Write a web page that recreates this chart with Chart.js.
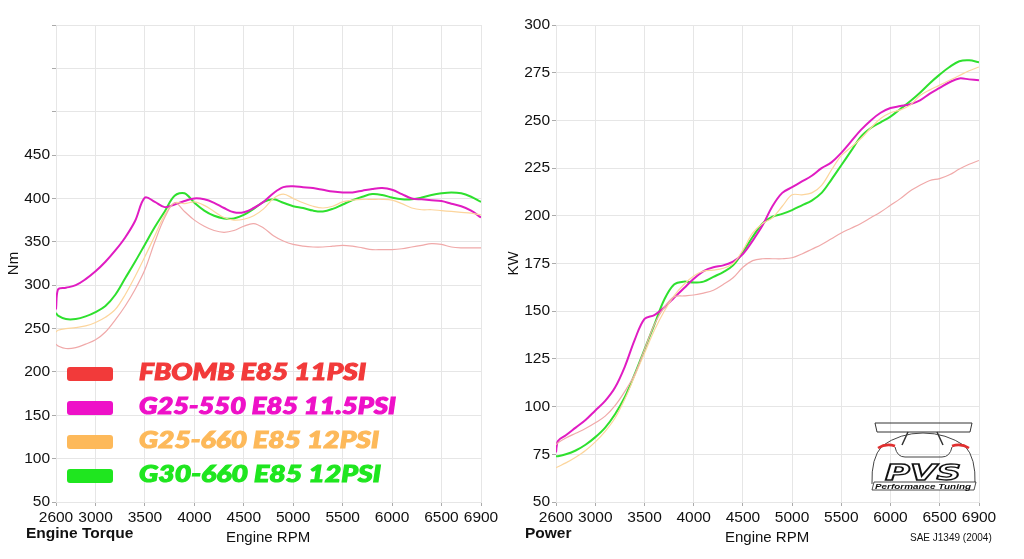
<!DOCTYPE html>
<html>
<head>
<meta charset="utf-8">
<script src="https://cdn.jsdelivr.net/npm/chart.js@4.4.1/dist/chart.umd.min.js"></script>
<style>
  body { margin: 0; background: #fff; width: 1024px; height: 559px; overflow: hidden; position: relative;
         font-family: "Liberation Sans", Arial, sans-serif; color: #111; }
  .box { position: absolute; top: 0; height: 559px; }
  .lbl { position: absolute; white-space: nowrap; line-height: 1; }
  .bold { font-weight: bold; font-size: 15.5px; }
  .rpm { font-size: 15px; }
  .leg { position: absolute; left: 67px; }
  .leg .sw { position: absolute; left: 0; width: 46px; height: 14px; border-radius: 3px; }
  .leg .tx { position: absolute; left: 72px; top: -7px; white-space: nowrap; font-family: Lato, "Open Sans", sans-serif;
             font-weight: 900; font-style: italic; font-size: 23px; line-height: 1; transform-origin: left center;
             -webkit-text-stroke: 1.1px currentColor; }
</style>
</head>
<body>
<div class="box" style="left:0;width:512px"><canvas id="torque"></canvas></div>
<div class="box" style="left:500px;width:524px"><canvas id="power"></canvas></div>

<div class="lbl bold" style="left:26px;top:525px">Engine Torque</div>
<div class="lbl rpm" style="left:226px;top:529px">Engine RPM</div>
<div class="lbl bold" style="left:525px;top:525px">Power</div>
<div class="lbl rpm" style="left:725px;top:529px">Engine RPM</div>
<div class="lbl" style="left:910px;top:533px;font-size:10px">SAE J1349 (2004)</div>

<div class="leg" style="top:367px"><div class="sw" style="background:#f23a3a"></div><div class="tx" style="color:#f23a3a">FBOMB E85 11PSI</div></div>
<div class="leg" style="top:401px"><div class="sw" style="background:#ee11c8"></div><div class="tx" style="color:#ee11c8">G25-550 E85 11.5PSI</div></div>
<div class="leg" style="top:435px"><div class="sw" style="background:#fdb95a"></div><div class="tx" style="color:#fdb95a">G25-660 E85 12PSI</div></div>
<div class="leg" style="top:469px"><div class="sw" style="background:#1fe61f"></div><div class="tx" style="color:#1fe61f">G30-660 E85 12PSI</div></div>

<svg style="position:absolute;left:868px;top:420px" width="112" height="74" viewBox="868 420 112 74">
  <path d="M875 423 L972 423 L970 432 L877 432 Z" fill="none" stroke="#333" stroke-width="1"/>
  <path d="M908 432 L902 445 M937 432 L943 445" stroke="#333" stroke-width="1.5"/>
  <path d="M872 484 Q871 458 882 446 Q900 433 923 433 Q946 433 965 446 Q976 458 975 484" fill="none" stroke="#444" stroke-width="1"/>
  <path d="M878 448 Q886 443 895 446 M952 446 Q961 443 969 448" stroke="#e03030" stroke-width="2.5" fill="none"/>
  <path d="M895 447 Q897 457 905 457 L942 457 Q950 457 952 447" fill="none" stroke="#444" stroke-width="1"/>
  <text x="923" y="480" text-anchor="middle" font-family="DejaVu Sans" font-weight="bold" font-style="italic" font-size="21"
        fill="#fff" stroke="#111" stroke-width="1.3" textLength="76" lengthAdjust="spacingAndGlyphs">PVS</text>
  <path d="M874 482 L976 482 L974 490 L872 490 Z" fill="#fff" stroke="#222" stroke-width="0.8"/>
  <text x="923" y="488.5" text-anchor="middle" font-family="Liberation Sans" font-weight="bold" font-style="italic" font-size="8"
        fill="#111" textLength="96" lengthAdjust="spacingAndGlyphs">Performance Tuning</text>
</svg>

<script>
const rpm = [2600, 2620, 2700, 2800, 2900, 3000, 3100, 3200, 3300, 3400, 3500, 3600, 3700, 3800, 3900, 4000,
  4100, 4200, 4300, 4400, 4500, 4600, 4700, 4800, 4900, 5000, 5100, 5200, 5300, 5400, 5500, 5600, 5700,
  5800, 5900, 6000, 6100, 6200, 6300, 6400, 6500, 6600, 6700, 6800, 6900];
const rpmTicks = [2600, 3000, 3500, 4000, 4500, 5000, 5500, 6000, 6500, 6900];

// Torque, Nm
const torqueFbomb = [232, 230, 227, 228, 232, 237, 246, 260, 276, 295, 318, 350, 378, 395, 385, 375,
  368, 363, 361, 363, 368, 371, 366, 357, 351, 347, 345, 344, 344, 345, 346, 345, 343,
  341, 341, 341, 342, 344, 346, 348, 347, 344, 343, 343, 343];
const torqueG25_550 = [272, 295, 297, 300, 307, 316, 327, 340, 355, 374, 401, 396, 390, 393, 397, 400,
  399, 395, 389, 384, 384, 389, 396, 406, 413, 414, 413, 412, 410, 408, 407, 407, 409,
  411, 412, 410, 405, 400, 399, 398, 397, 394, 391, 386, 378];
const torqueG25_660 = [246, 248, 250, 251, 253, 257, 263, 272, 289, 310, 333, 357, 381, 395, 394, 396,
  392, 385, 378, 375, 376, 380, 388, 400, 405, 400, 395, 391, 389, 391, 396, 398, 399,
  399, 399, 398, 394, 389, 387, 387, 386, 385, 384, 383, 381];
const torqueG30_660 = [268, 265, 261, 261, 264, 269, 276, 289, 308, 327, 347, 367, 385, 403, 406, 395,
  386, 380, 377, 377, 381, 388, 396, 399, 395, 391, 389, 386, 385, 388, 393, 398, 402,
  405, 404, 401, 399, 399, 401, 404, 406, 407, 406, 402, 396];

// Power, kW
const powerFbomb = [80, 81, 83.5, 86, 88.5, 91.5, 95, 100.5, 108, 117, 130, 143, 152, 157.5, 158, 158.5,
  159.5, 161, 164, 167.5, 173, 176.5, 177.5, 177.5, 177.5, 178, 180, 182.5, 185, 188, 191, 193.5, 196,
  199, 202, 205.5, 209, 213, 216, 218.5, 219.5, 221.5, 224.5, 227, 229];
const powerG25_550 = [76, 82, 85, 89, 93, 98, 103, 110, 121, 135, 146, 148, 152, 157, 162, 167,
  171, 173, 174, 176, 180, 187, 195, 205, 212, 215, 218, 221, 225, 228, 233, 239, 245,
  250, 254, 256.5, 257.5, 258.5, 260.5, 264, 267, 270, 272, 271.5, 271];
const powerG25_660 = [68, 68.5, 70.5, 73.5, 77, 81.5, 87, 94, 104, 116, 128, 140, 150, 158, 164, 168.5,
  171, 171.5, 172.5, 175, 182, 191, 196, 199, 205, 211, 211, 212, 216, 224, 231.5, 236, 240.5,
  246, 251, 254, 255.5, 258, 263, 266, 268.5, 271, 273.5, 276, 278];
const powerG30_660 = [74, 74, 75, 77, 80, 84, 89, 96, 105, 117, 130, 143, 156, 164, 165.5, 165,
  165.5, 168, 170.5, 174, 181, 189, 196, 199.5, 201, 203, 205.5, 208, 212, 219, 226.5, 234, 241.5,
  246, 249, 252, 256, 260, 264.5, 269.5, 274, 278, 281, 281.5, 280.5];

const seriesNames = ['FBOMB E85 11PSI', 'G25-660 E85 12PSI', 'G25-550 E85 11.5PSI', 'G30-660 E85 12PSI'];
const seriesColors = ['#f0a9a9', '#fcd59c', '#e01cc2', '#2ee02e'];
const seriesWidths = [1.2, 1.2, 2, 2];

function points(values) {
  return rpm.map((x, i) => ({ x: x, y: values[i] }));
}

function makeChart(id, seriesValues, yMin, yMax, yStep, labelMax, yTitle, padRight) {
  const gridColor = '#e6e6e6';
  return new Chart(document.getElementById(id), {
    type: 'line',
    data: {
      datasets: seriesValues.map((values, i) => ({
        label: seriesNames[i],
        data: points(values),
        borderColor: seriesColors[i],
        borderWidth: seriesWidths[i],
        pointRadius: 0,
        tension: 0.35,
        fill: false
      }))
    },
    options: {
      responsive: true,
      maintainAspectRatio: false,
      animation: false,
      layout: { padding: { top: 25, right: padRight, left: 0, bottom: 0 } },
      plugins: { legend: { display: false }, tooltip: { enabled: false } },
      scales: {
        x: {
          type: 'linear',
          min: 2600,
          max: 6900,
          afterBuildTicks: scale => { scale.ticks = rpmTicks.map(v => ({ value: v })); },
          afterFit: scale => { scale.height = 57; },
          ticks: { color: '#111', font: { size: 15.5, family: 'Liberation Sans' }, padding: 2, maxRotation: 0,
                   autoSkip: false, callback: v => String(v) },
          grid: { color: gridColor, tickColor: '#aaa', tickLength: 4 },
          border: { color: gridColor }
        },
        y: {
          min: yMin,
          max: yMax,
          afterFit: scale => { scale.width = 56; },
          ticks: {
            stepSize: yStep,
            color: '#111',
            font: { size: 15.5, family: 'Liberation Sans' },
            padding: 2,
            callback: v => (v > labelMax ? '' : String(v))
          },
          grid: { color: gridColor, tickColor: '#aaa', tickLength: 4 },
          border: { color: gridColor },
          title: { display: true, text: yTitle, color: '#111', font: { size: 15, family: 'Liberation Sans' }, padding: 5 }
        }
      }
    }
  });
}

makeChart('torque', [torqueFbomb, torqueG25_660, torqueG25_550, torqueG30_660], 50, 600, 50, 450, 'Nm', 31);
makeChart('power', [powerFbomb, powerG25_660, powerG25_550, powerG30_660], 50, 300, 25, 300, 'KW', 45);

// fit legend text widths to the reference
const legendWidths = [227, 257, 240, 242];
document.querySelectorAll('.leg .tx').forEach((el, i) => {
  const w = el.getBoundingClientRect().width;
  el.style.transform = 'scaleX(' + (legendWidths[i] / w).toFixed(3) + ')';
});
</script>
</body>
</html>
